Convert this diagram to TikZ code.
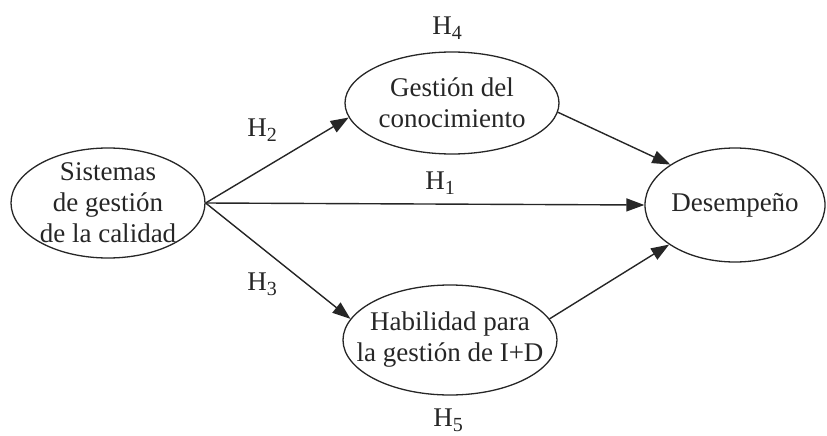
\documentclass[tikz,border=0pt]{standalone}
\usepackage{fontspec}
\setmainfont{Liberation Serif}
\usetikzlibrary{arrows.meta,shapes.geometric}

% hypothesis label: H with a lowered, smaller index
\newcommand{\hyp}[1]{H\raisebox{-0.4ex}{\fontsize{20}{20}\selectfont #1}}

\begin{document}
\begin{tikzpicture}[x=1pt,y=-1pt,
    every node/.style={text=black!85, font=\fontsize{27}{31}\selectfont},
    construct/.style={ellipse, draw=black!85, line width=1.3pt, inner sep=0pt},
    caption/.style={label={[align=center, inner sep=0pt]center:#1}},
    link/.style={draw=black!85, line width=1.4pt, -{Triangle[length=18pt,width=13pt]}},
    hlabel/.style={inner sep=0pt}]
  \useasboundingbox (0,0) rectangle (827,436);

  % constructs (fixed ellipse sizes, text set as a centred label)
  \node[construct, minimum width=194pt, minimum height=110pt,
        caption={Sistemas\\de gestión\\de la calidad}] (qs) at (108,203) {};
  \node[construct, minimum width=214pt, minimum height=102pt,
        caption={Gestión del\\conocimiento}] (gc) at (452,103) {};
  \node[construct, minimum width=214pt, minimum height=110pt,
        caption={Habilidad para\\la gestión de I+D}] (gh) at (450,340) {};
  \node[construct, minimum width=180pt, minimum height=114pt,
        caption={Desempeño}] (dp) at (735,205) {};

  % hypothesised paths
  \draw[link] (qs.east) -- (gc.188);
  \draw[link] (qs.east) -- (dp.west);
  \draw[link] (qs.east) -- (gh.168);
  \draw[link] (gc.-5) -- (dp.148);
  \draw[link] (gh.12) -- (dp.211);

  % path labels
  \node[hlabel] (h1) at (440,183) {\hyp{1}};
  \node[hlabel] (h2) at (262,130) {\hyp{2}};
  \node[hlabel] (h3) at (262,284) {\hyp{3}};
  \node[hlabel] (h4) at (447,28) {\hyp{4}};
  \node[hlabel] (h5) at (448,420) {\hyp{5}};
\end{tikzpicture}
\end{document}
